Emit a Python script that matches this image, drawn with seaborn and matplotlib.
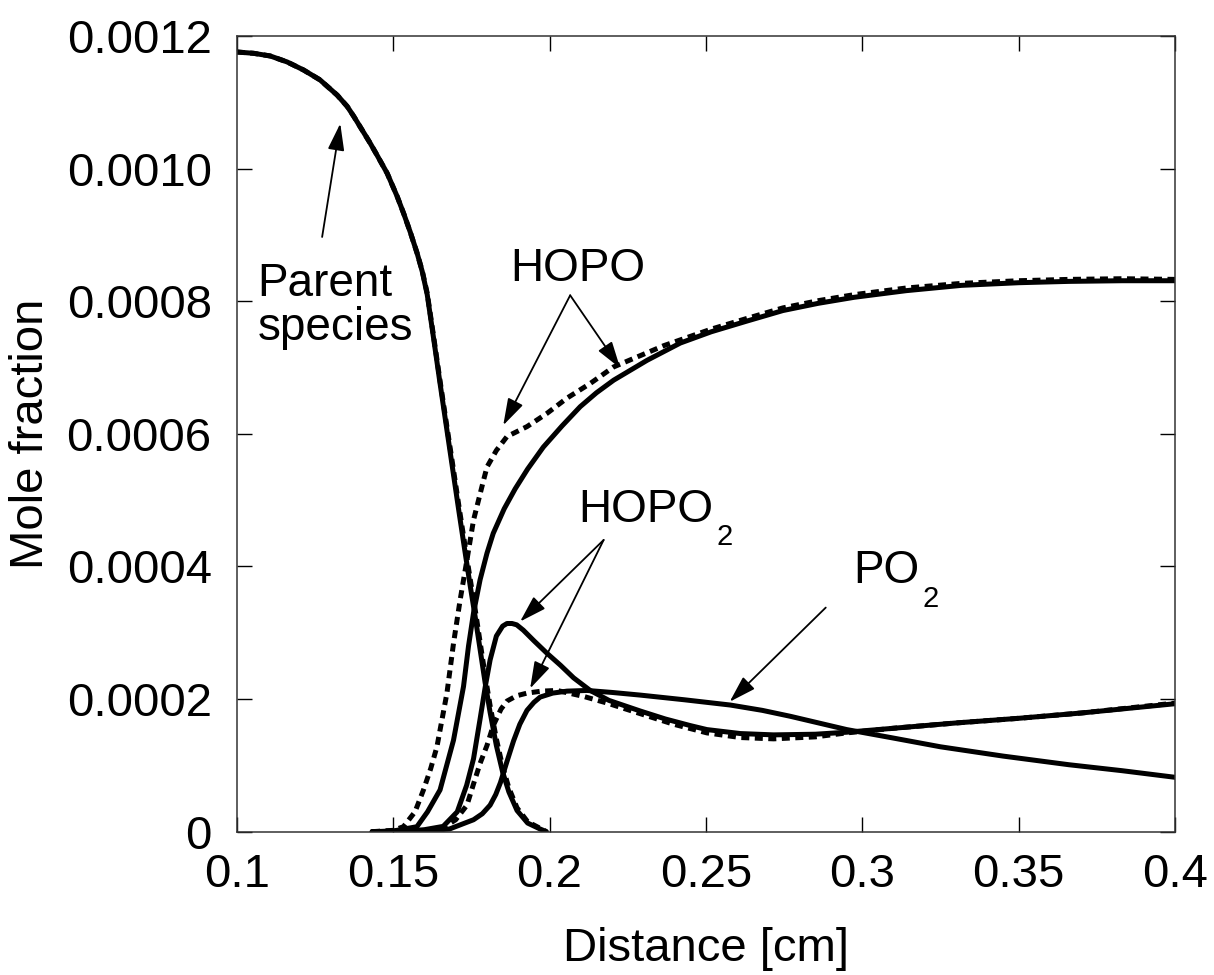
import numpy as np
import pandas as pd
import seaborn as sns
import matplotlib
matplotlib.use("Agg")
import matplotlib.pyplot as plt

# mole fraction profiles (y in units of 1e-4)
parent_solid_x = [0.1000, 0.1054, 0.1107, 0.1161, 0.1213, 0.1266, 0.1321, 0.1353, 0.1374, 0.1426,
                  0.1449, 0.1481, 0.1513, 0.1534, 0.1555, 0.1577, 0.1593, 0.1609, 0.1630, 0.1650,
                  0.1670, 0.1690, 0.1710, 0.1725, 0.1746, 0.1762, 0.1778, 0.1794, 0.1810, 0.1830,
                  0.1850, 0.1870, 0.1896, 0.1930, 0.1970, 0.1990]
parent_solid_y = [11.76, 11.74, 11.70, 11.61, 11.49, 11.34, 11.11, 10.94, 10.79, 10.39,
                  10.20, 9.93, 9.58, 9.32, 9.04, 8.72, 8.45, 8.10, 7.42, 6.76,
                  6.12, 5.48, 4.84, 4.37, 3.72, 3.25, 2.75, 2.25, 1.80, 1.30,
                  0.90, 0.60, 0.32, 0.13, 0.04, 0.0]

parent_dash_x = [0.1000, 0.1054, 0.1107, 0.1161, 0.1213, 0.1266, 0.1321, 0.1353, 0.1374, 0.1426,
                 0.1449, 0.1481, 0.1513, 0.1534, 0.1555, 0.1577, 0.1593, 0.1609, 0.1630, 0.1650,
                 0.1670, 0.1690, 0.1710, 0.1725, 0.1746, 0.1762, 0.1778, 0.1794, 0.1810, 0.1830,
                 0.1850, 0.1870, 0.1896, 0.1930, 0.1970, 0.1990]
parent_dash_y = [11.76, 11.74, 11.70, 11.61, 11.49, 11.34, 11.11, 10.94, 10.79, 10.39,
                 10.20, 9.93, 9.58, 9.32, 9.04, 8.72, 8.46, 8.12, 7.45, 6.80,
                 6.17, 5.55, 4.92, 4.46, 3.82, 3.36, 2.86, 2.36, 1.90, 1.40,
                 0.98, 0.66, 0.36, 0.15, 0.05, 0.0]

hopo_solid_x = [0.1433, 0.150, 0.1576, 0.1610, 0.1650, 0.1693, 0.1725, 0.1741, 0.1757, 0.1778,
                0.1800, 0.1820, 0.1855, 0.1890, 0.1930, 0.1980, 0.2040, 0.2098, 0.2150, 0.2205,
                0.2312, 0.2418, 0.2517, 0.2630, 0.2746, 0.2860, 0.2974, 0.3140, 0.3317, 0.3500,
                0.3660, 0.3830, 0.4000]
hopo_solid_y = [0.0, 0.01, 0.075, 0.30, 0.63, 1.38, 2.19, 2.80, 3.30, 3.80,
                4.20, 4.50, 4.87, 5.17, 5.47, 5.80, 6.12, 6.41, 6.62, 6.81,
                7.11, 7.37, 7.54, 7.70, 7.86, 7.97, 8.06, 8.16, 8.24, 8.28,
                8.30, 8.31, 8.31]

hopo_dash_x = [0.1433, 0.150, 0.1533, 0.1570, 0.1597, 0.1620, 0.1640, 0.1672, 0.1693, 0.1714,
               0.1736, 0.1757, 0.1773, 0.1789, 0.1800, 0.1830, 0.1864, 0.1928, 0.1992, 0.2056,
               0.2130, 0.2205, 0.2280, 0.2365, 0.2450, 0.2517, 0.2630, 0.2746, 0.2860, 0.2974,
               0.3140, 0.3317, 0.3500, 0.3660, 0.3830, 0.4000]
hopo_dash_y = [0.0, 0.02, 0.075, 0.30, 0.63, 0.95, 1.28, 2.09, 2.84, 3.49,
               4.10, 4.70, 5.00, 5.30, 5.50, 5.75, 5.96, 6.11, 6.31, 6.54,
               6.76, 7.01, 7.16, 7.33, 7.47, 7.58, 7.74, 7.90, 8.01, 8.10,
               8.20, 8.27, 8.31, 8.33, 8.34, 8.33]

hopo2_solid_x = [0.1433, 0.155, 0.160, 0.166, 0.1705, 0.1735, 0.1757, 0.1778, 0.1795, 0.1810,
                 0.1830, 0.1850, 0.1864, 0.1880, 0.1895, 0.1916, 0.1950, 0.1992, 0.2035, 0.2077,
                 0.2130, 0.2190, 0.2290, 0.2370, 0.2450, 0.2503, 0.2610, 0.2716, 0.2850, 0.2950,
                 0.3100, 0.3300, 0.3500, 0.3700, 0.4000]
hopo2_solid_y = [0.0, 0.01, 0.03, 0.08, 0.30, 0.70, 1.10, 1.70, 2.20, 2.59,
                 2.95, 3.10, 3.14, 3.14, 3.12, 3.04, 2.88, 2.69, 2.51, 2.32,
                 2.13, 1.98, 1.82, 1.70, 1.60, 1.54, 1.48, 1.46, 1.47, 1.50,
                 1.56, 1.64, 1.71, 1.79, 1.93]

hopo2_dash_x = [0.1433, 0.160, 0.166, 0.170, 0.1736, 0.1757, 0.1778, 0.1800, 0.1820, 0.1845,
                0.1864, 0.1895, 0.1928, 0.1975, 0.2024, 0.2109, 0.2184, 0.2290, 0.2397, 0.2503,
                0.2610, 0.2716, 0.2850, 0.2950, 0.3100, 0.3300, 0.3500, 0.3700, 0.4000]
hopo2_dash_y = [0.0, 0.02, 0.06, 0.18, 0.40, 0.72, 1.03, 1.30, 1.60, 1.85,
                1.97, 2.05, 2.09, 2.12, 2.13, 2.04, 1.94, 1.78, 1.62, 1.49,
                1.42, 1.40, 1.43, 1.49, 1.56, 1.64, 1.71, 1.79, 1.94]

po2_solid_x = [0.1433, 0.160, 0.168, 0.1757, 0.1785, 0.1810, 0.1828, 0.1843, 0.1864, 0.1885,
               0.1905, 0.1928, 0.1950, 0.1970, 0.2010, 0.2056, 0.2120, 0.2200, 0.2290, 0.2430,
               0.2578, 0.2680, 0.2770, 0.2860, 0.2950, 0.3090, 0.3250, 0.3450, 0.3660, 0.3830,
               0.4000]
po2_solid_y = [0.0, 0.01, 0.04, 0.18, 0.27, 0.40, 0.56, 0.74, 1.06, 1.37,
               1.62, 1.83, 1.95, 2.03, 2.09, 2.12, 2.13, 2.10, 2.06, 1.99,
               1.91, 1.83, 1.74, 1.64, 1.54, 1.42, 1.28, 1.14, 1.01, 0.92,
               0.82]

x_ticks = [0.1, 0.15, 0.2, 0.25, 0.3, 0.35, 0.4]
x_tick_labels = ["0.1", "0.15", "0.2", "0.25", "0.3", "0.35", "0.4"]
y_ticks = [0, 0.0002, 0.0004, 0.0006, 0.0008, 0.0010, 0.0012]
y_tick_labels = ["0", "0.0002", "0.0004", "0.0006", "0.0008", "0.0010", "0.0012"]

curves = [
    ("Parent", "solid", parent_solid_x, parent_solid_y),
    ("Parent", "dashed", parent_dash_x, parent_dash_y),
    ("HOPO", "solid", hopo_solid_x, hopo_solid_y),
    ("HOPO", "dashed", hopo_dash_x, hopo_dash_y),
    ("HOPO2", "solid", hopo2_solid_x, hopo2_solid_y),
    ("HOPO2", "dashed", hopo2_dash_x, hopo2_dash_y),
    ("PO2", "solid", po2_solid_x, po2_solid_y),
]
frames = []
for sp, model, xs, ys in curves:
    frames.append(pd.DataFrame({"species": sp, "model": model,
                                "x": xs, "y": np.array(ys) * 1e-4}))
df = pd.concat(frames, ignore_index=True)

sns.set_theme(style="ticks")
plt.rcParams["font.family"] = ["Liberation Sans", "DejaVu Sans"]
plt.rcParams["text.color"] = "black"
plt.rcParams["axes.labelcolor"] = "black"

fig = plt.figure(figsize=(12.14, 9.75), dpi=100)
ax = fig.add_axes([0.195, 0.147, 0.773, 0.816])

sns.lineplot(data=df, x="x", y="y", hue="species", style="model",
             palette={"Parent": "black", "HOPO": "black", "HOPO2": "black", "PO2": "black"},
             dashes={"solid": "", "dashed": (1.6, 1.1)},
             estimator=None, sort=False, legend=False, linewidth=3.6, ax=ax)

ax.set_xlim(0.1, 0.4)
ax.set_ylim(0, 0.0012)
ax.set_xticks(x_ticks)
ax.set_xticklabels(x_tick_labels)
ax.set_yticks(y_ticks)
ax.set_yticklabels(y_tick_labels)
ax.tick_params(direction="in", length=11, width=1.0, top=True, right=True,
               labelsize=34, colors="black")
ax.tick_params(axis="x", pad=15)
ax.tick_params(axis="y", pad=18)
for s in ax.spines.values():
    s.set_linewidth(1.1)
    s.set_color("#333333")
ax.set_xlabel("Distance [cm]", fontsize=34, labelpad=22)
ax.set_ylabel("Mole fraction", fontsize=34, labelpad=10)

arrow = dict(arrowstyle="-|>,head_length=0.55,head_width=0.17", color="black",
             lw=1.3, mutation_scale=30, shrinkA=0, shrinkB=0)

ax.text(0.1066, 0.000793, "Parent\nspecies", fontsize=33, ha="left", va="center",
        linespacing=1.0)
ax.annotate("", xy=(0.1331, 0.001068), xytext=(0.1273, 0.000897), arrowprops=arrow)

ax.text(0.1873, 0.000830, "HOPO", fontsize=33, ha="left", va="baseline")
ax.annotate("", xy=(0.1852, 0.000613), xytext=(0.2066, 0.000809), arrowprops=arrow)
ax.annotate("", xy=(0.2226, 0.000699), xytext=(0.2066, 0.000809), arrowprops=arrow)

ax.text(0.2092, 0.000467, "HOPO", fontsize=33, ha="left", va="baseline")
ax.text(0.2533, 0.000432, "2", fontsize=21, ha="left", va="baseline")
ax.annotate("", xy=(0.1906, 0.000317), xytext=(0.2173, 0.000440), arrowprops=arrow)
ax.annotate("", xy=(0.1938, 0.000216), xytext=(0.2173, 0.000440), arrowprops=arrow)

ax.text(0.2972, 0.000375, "PO", fontsize=33, ha="left", va="baseline")
ax.text(0.3193, 0.000339, "2", fontsize=21, ha="left", va="baseline")
ax.annotate("", xy=(0.2576, 0.000196), xytext=(0.2883, 0.000338), arrowprops=arrow)

fig.savefig("out.png", dpi=100)
